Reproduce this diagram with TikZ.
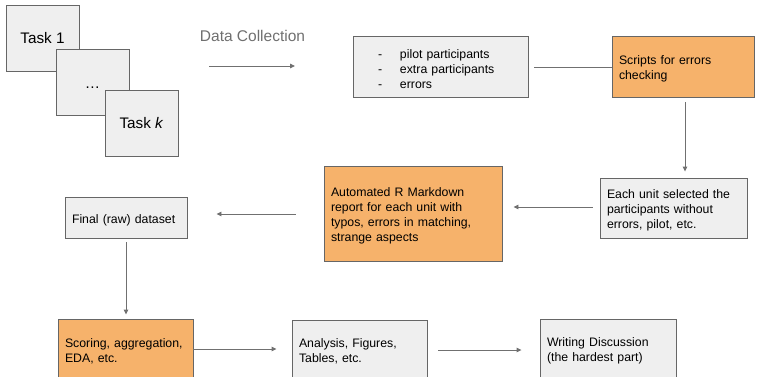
\documentclass[tikz,border=0pt]{standalone}
\usepackage{fontspec}
\setmainfont{Liberation Sans}
\usetikzlibrary{arrows.meta}
\definecolor{boxgray}{HTML}{EFEFEF}
\definecolor{boxorange}{HTML}{F6B26B}
\definecolor{edgegray}{HTML}{666666}
\definecolor{linegray}{HTML}{707070}
\definecolor{titlegray}{HTML}{6F6F6F}
\newcommand{\bul}{\makebox[22pt][l]{-}}
\tikzset{
  base/.style={draw=edgegray, line width=0.9pt, rectangle, anchor=center, inner xsep=7pt, inner ysep=0pt,
    align=left, font=\fontsize{12.3}{15}\selectfont, text=black,
    execute at begin node={\rule{0pt}{13.5pt}}},
  graybox/.style={base, fill=boxgray},
  orangebox/.style={base, fill=boxorange},
  taskbox/.style={draw=edgegray, line width=0.9pt, fill=boxgray, minimum width=73pt, minimum height=66pt,
    inner sep=0pt, font=\fontsize{15.3}{18}\selectfont, align=center},
  conn/.style={draw=linegray, line width=0.9pt},
  arr/.style={conn, -{Triangle[length=5pt,width=4.5pt]}}
}
\begin{document}
\begin{tikzpicture}[x=1pt,y=-1pt]
\useasboundingbox (0,0) rectangle (757,376);
\clip (0,0) rectangle (757,376);
% task boxes
\node[taskbox] (task1) at (42.5,38) {Task 1};
\node[taskbox] (dots) at (92.5,82) {\rule{0pt}{13pt}\dots};
\node[taskbox] (taskk) at (141.5,123) {Task \textit{k}};
% Data collection
\node[font=\fontsize{15.5}{18}\selectfont, text=titlegray, inner sep=0pt] (dctitle) at (252.5,36) {Data Collection};
\coordinate (dc1) at (209,66);
\coordinate (dc2) at (295,66);
\draw[arr] (dc1) -- (dc2);
% list box
\node[graybox, minimum width=175pt, minimum height=61pt, text width=125pt, inner xsep=25pt,
  execute at begin node={\rule{0pt}{12pt}}] (list) at (440.5,66.5)
  {\bul pilot participants\\\bul extra participants\\\bul errors};
\node[orangebox, minimum width=142pt, minimum height=61pt, text width=128pt] (scripts) at (683,66.5)
  {Scripts for errors\\checking};
\node[graybox, minimum width=147pt, minimum height=60pt, text width=133pt] (each) at (673.5,208)
  {Each unit selected the\\participants without\\errors, pilot, etc.};
\node[orangebox, minimum width=178pt, minimum height=95pt, text width=164pt] (auto) at (413,213.5)
  {Automated R Markdown\\report for each unit with\\typos, errors in matching,\\strange aspects};
\node[graybox, minimum width=122pt, minimum height=41pt, text width=108pt, execute at begin node={\rule{0pt}{15pt}}] (final) at (126,217.5)
  {Final (raw) dataset};
\node[orangebox, minimum width=135pt, minimum height=60pt, text width=121pt] (scoring) at (125.5,349)
  {Scoring, aggregation,\\EDA, etc.};
\node[graybox, minimum width=135pt, minimum height=59pt, text width=121pt] (analysis) at (359.5,349.5)
  {Analysis, Figures,\\Tables, etc.};
\node[graybox, minimum width=136pt, minimum height=60pt, text width=122pt] (writing) at (608,349)
  {Writing Discussion\\(the hardest part)};
% connectors
\draw[conn, shorten <=6pt] ([yshift=-0.5pt]list.east) -- ([yshift=-0.5pt]list.east -| scripts.west);
\draw[arr, shorten <=5pt, shorten >=6pt] ([xshift=2pt]scripts.south) -- ([xshift=2pt]scripts.south |- each.north);
\draw[arr, shorten <=7pt, shorten >=11pt] ([yshift=1pt]each.west) -- ([yshift=1pt]each.west -| auto.east);
\draw[arr, shorten <=28pt, shorten >=29pt] ([yshift=-0.5pt]auto.west) -- ([yshift=-0.5pt]auto.west -| final.east);
\draw[arr, shorten <=4pt, shorten >=4pt] (final.south) -- (final.south |- scoring.north);
\draw[arr, shorten >=15pt] (scoring.east) -- (scoring.east -| analysis.west);
\draw[arr, shorten <=11pt, shorten >=18pt] ([yshift=-0.5pt]analysis.east) -- ([yshift=-0.5pt]analysis.east -| writing.west);
\end{tikzpicture}
\end{document}
